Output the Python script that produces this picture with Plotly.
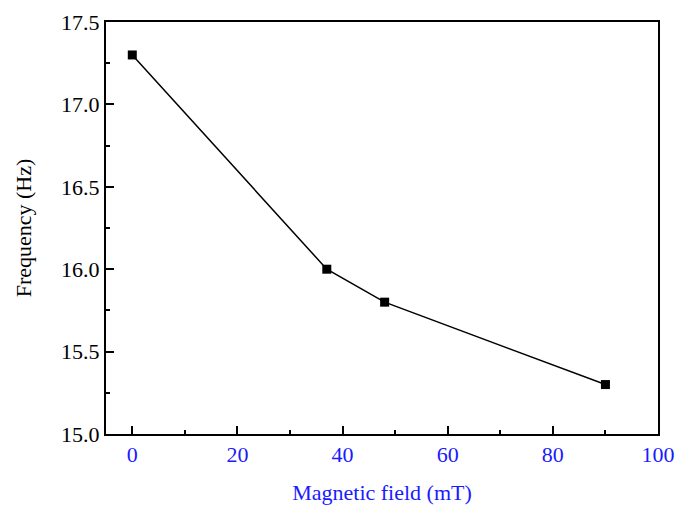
import plotly.graph_objects as go

field_mT = [0, 37, 48, 90]
frequency_Hz = [17.3, 16.0, 15.8, 15.3]
x_ticks = [0, 20, 40, 60, 80, 100]
y_ticks = [15.0, 15.5, 16.0, 16.5, 17.0, 17.5]
y_tick_labels = ["15.0", "15.5", "16.0", "16.5", "17.0", "17.5"]

font_family = "Liberation Serif, Times New Roman, serif"
blue = "#1a1aff"
fs = 22

fig = go.Figure()
fig.add_trace(go.Scatter(
    x=field_mT, y=frequency_Hz, mode="lines+markers",
    line=dict(color="black", width=1.5),
    marker=dict(symbol="square", size=9, color="black"),
    showlegend=False,
))

fig.update_layout(
    width=678, height=509,
    margin=dict(l=106, r=20, t=22, b=75),
    paper_bgcolor="white", plot_bgcolor="white",
    font=dict(family=font_family, size=fs, color="black"),
    xaxis=dict(
        range=[-5, 100], tickvals=x_ticks, ticks="inside", ticklen=8, tickwidth=2,
        tickcolor="black", showline=True, linewidth=2, linecolor="black", mirror=True,
        showgrid=False, zeroline=False, automargin=False,
        tickfont=dict(color=blue, size=fs, family=font_family),
        title=dict(text="Magnetic field (mT)", font=dict(color=blue, size=fs, family=font_family), standoff=18),
        minor=dict(dtick=10, tick0=0, ticks="inside", ticklen=4, tickwidth=2, tickcolor="black", showgrid=False),
    ),
    yaxis=dict(
        range=[15.0, 17.5], tickvals=y_ticks, ticktext=y_tick_labels, ticks="inside", ticklen=8, tickwidth=2,
        tickcolor="black", showline=True, linewidth=2, linecolor="black", mirror=True,
        showgrid=False, zeroline=False, automargin=False,
        tickfont=dict(color="black", size=fs, family=font_family),
        title=dict(text="Frequency (Hz)", font=dict(color="black", size=fs, family=font_family), standoff=23),
        minor=dict(dtick=0.25, tick0=15.0, ticks="inside", ticklen=4, tickwidth=2, tickcolor="black", showgrid=False),
    ),
)

fig.write_html(
    "out.html",
    config={"displayModeBar": False},
    post_script="document.body.style.margin='0';document.body.style.overflow='hidden';",
)
